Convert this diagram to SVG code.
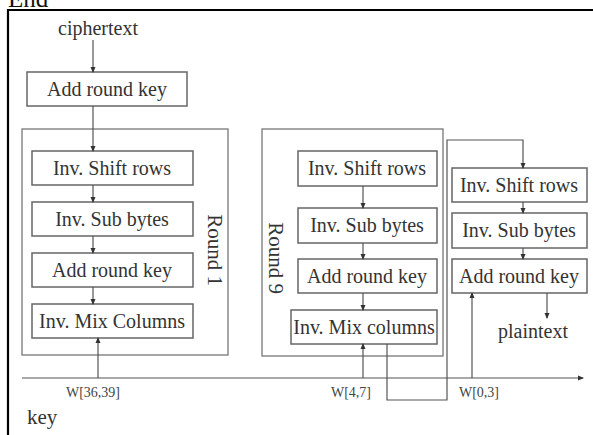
<svg xmlns="http://www.w3.org/2000/svg" width="593" height="435" viewBox="0 0 593 435">
<defs>
<style>
.box{fill:#fff;stroke:#666;stroke-width:1.5}
.frame{fill:none;stroke:#777;stroke-width:1.3}
.t{font-family:'Liberation Serif','DejaVu Serif',serif;font-size:20px;fill:#333;text-anchor:middle}
.r{font-family:'Liberation Serif','DejaVu Serif',serif;font-size:21px;fill:#333;text-anchor:middle}
.s{font-family:'Liberation Serif','DejaVu Serif',serif;font-size:14px;fill:#444;text-anchor:middle}
.ln{fill:none;stroke:#555;stroke-width:1.2}
</style>
<marker id="a" viewBox="0 0 6 6" refX="5" refY="3" markerWidth="5" markerHeight="5" orient="auto">
<path d="M0,0.5 L6,3 L0,5.5 Z" fill="#333"/>
</marker>
</defs>
<rect width="593" height="435" fill="#fff"/>
<text x="8" y="7" font-family="'Liberation Serif','DejaVu Serif',serif" font-size="25" fill="#111">End</text>
<path d="M8,435 V10 H593" fill="none" stroke="#000" stroke-width="2.2"/>

<g id="round1">
<rect class="frame" x="22" y="129" width="206" height="226"/>
<text class="r" transform="translate(208,250) rotate(90)">Round 1</text>
</g>
<g id="round9">
<rect class="frame" x="262" y="129" width="181" height="227"/>
<text class="r" transform="translate(269,258) rotate(90)">Round 9</text>
</g>

<g id="ciphertext"><text class="t" x="98" y="35">ciphertext</text></g>
<g id="ark0"><rect class="box" x="27" y="72" width="160" height="34"/><text class="t" x="107" y="96">Add round key</text></g>

<g id="r1-shift"><rect class="box" x="32" y="151" width="161" height="34"/><text class="t" x="112" y="175">Inv. Shift rows</text></g>
<g id="r1-sub"><rect class="box" x="32" y="202" width="161" height="34"/><text class="t" x="112" y="226">Inv. Sub bytes</text></g>
<g id="r1-ark"><rect class="box" x="32" y="253" width="161" height="34"/><text class="t" x="112" y="277">Add round key</text></g>
<g id="r1-mix"><rect class="box" x="32" y="304" width="161" height="34"/><text class="t" x="112" y="328">Inv. Mix Columns</text></g>

<g id="r9-shift"><rect class="box" x="298" y="151" width="139" height="35"/><text class="t" x="367" y="175">Inv. Shift rows</text></g>
<g id="r9-sub"><rect class="box" x="298" y="208" width="139" height="35"/><text class="t" x="367" y="232">Inv. Sub bytes</text></g>
<g id="r9-ark"><rect class="box" x="298" y="259" width="139" height="34"/><text class="t" x="367" y="283">Add round key</text></g>
<g id="r9-mix"><rect class="box" x="291" y="310" width="146" height="34"/><text class="t" x="364" y="334">Inv. Mix columns</text></g>

<g id="f-shift"><rect class="box" x="452" y="168" width="135" height="34"/><text class="t" x="519" y="192">Inv. Shift rows</text></g>
<g id="f-sub"><rect class="box" x="452" y="213" width="135" height="35"/><text class="t" x="519" y="237">Inv. Sub bytes</text></g>
<g id="f-ark"><rect class="box" x="452" y="259" width="135" height="34"/><text class="t" x="519" y="283">Add round key</text></g>
<g id="plaintext"><text class="t" x="533" y="338">plaintext</text></g>

<g id="key">
<text x="27" y="424" font-family="'Liberation Serif','DejaVu Serif',serif" font-size="21" fill="#333">key</text>
<text class="s" x="93" y="397">W[36,39]</text>
<text class="s" x="351" y="397">W[4,7]</text>
<text class="s" x="479" y="397">W[0,3]</text>
</g>

<g id="connectors">
<path class="ln" d="M93,40 V72" marker-end="url(#a)"/>
<path class="ln" d="M93,106 V151" marker-end="url(#a)"/>
<path class="ln" d="M93,185 V202" marker-end="url(#a)"/>
<path class="ln" d="M93,236 V253" marker-end="url(#a)"/>
<path class="ln" d="M93,287 V304" marker-end="url(#a)"/>
<path class="ln" d="M22,378 H583" marker-end="url(#a)"/>
<path class="ln" d="M98,378 V338" marker-end="url(#a)"/>
<path class="ln" d="M363,186 V208" marker-end="url(#a)"/>
<path class="ln" d="M363,243 V259" marker-end="url(#a)"/>
<path class="ln" d="M363,293 V310" marker-end="url(#a)"/>
<path class="ln" d="M363,378 V344" marker-end="url(#a)"/>
<path class="ln" d="M387,344 V400 H447 V140 H523 V168" marker-end="url(#a)"/>
<path class="ln" d="M523,202 V213" marker-end="url(#a)"/>
<path class="ln" d="M523,248 V259" marker-end="url(#a)"/>
<path class="ln" d="M472,378 V293" marker-end="url(#a)"/>
<path class="ln" d="M547,293 V318" marker-end="url(#a)"/>
</g>
</svg>
